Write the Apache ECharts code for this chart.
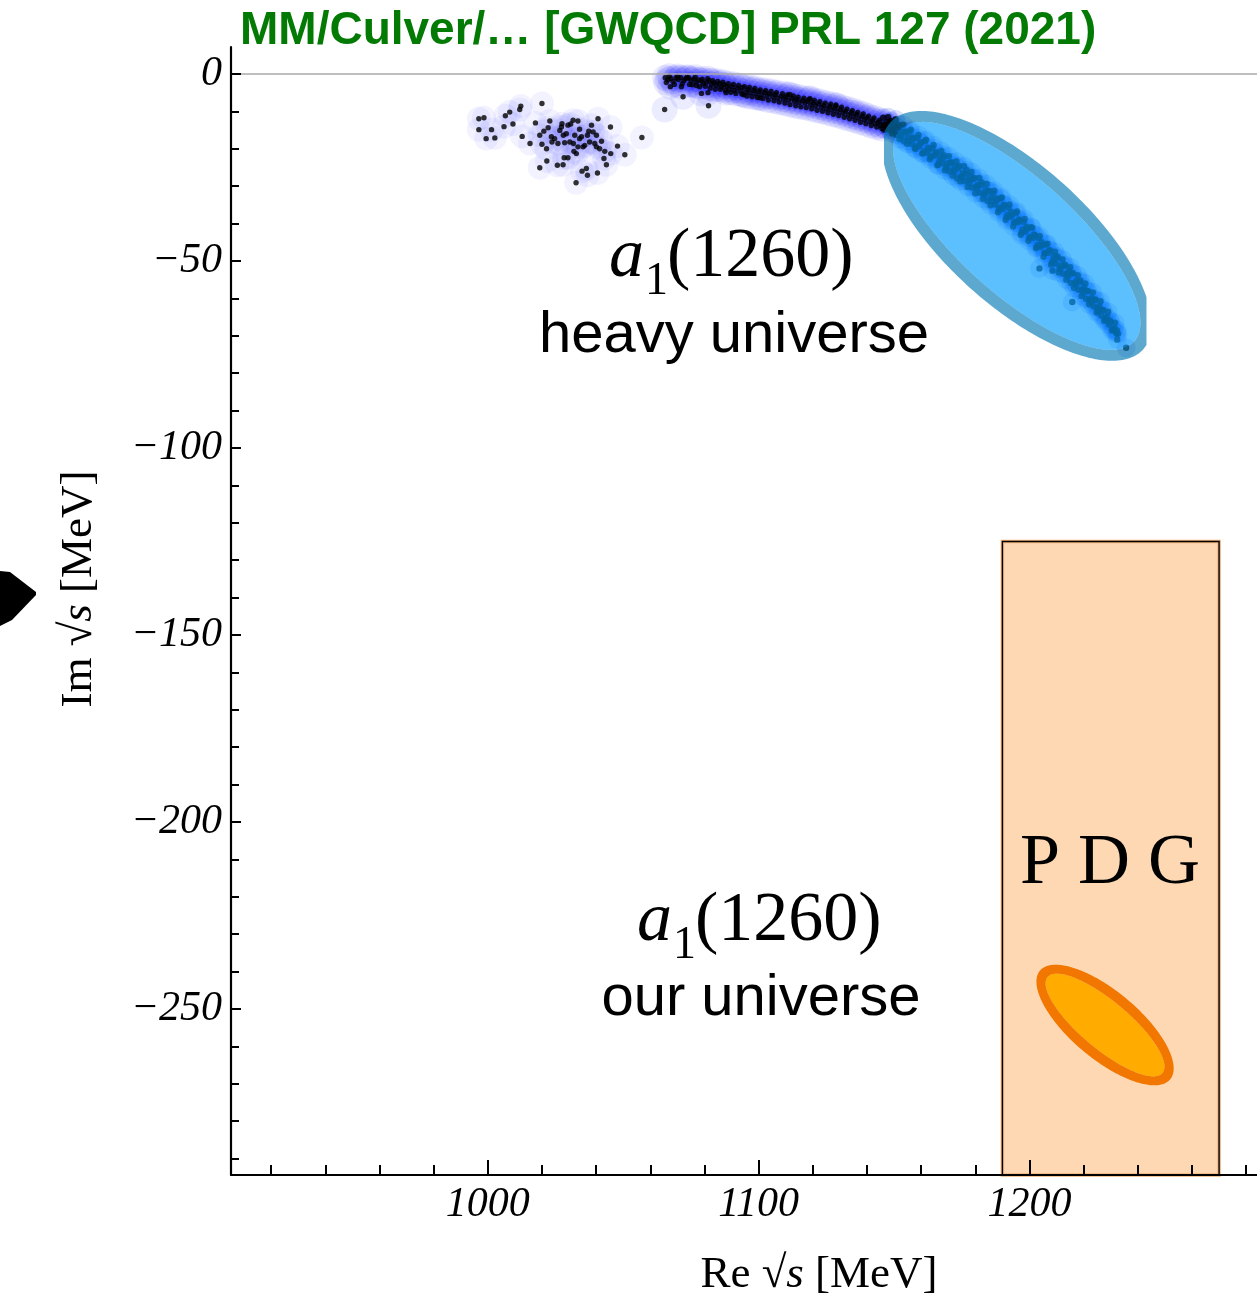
<!DOCTYPE html>
<html>
<head>
<meta charset="utf-8">
<script src="https://cdn.jsdelivr.net/npm/echarts@6/dist/echarts.min.js"></script>
<style>html,body{margin:0;padding:0;background:#fff;}#c{width:1257px;height:1311px;}</style>
</head>
<body>
<div id="c"></div>
<script>
// ---------------- data ----------------
const xRange = [905.2, 1284];
const yRange = [-294.4, 7.2];
const xMajorTicks = [1000, 1100, 1200];
const xMinorTicks = [920, 940, 960, 980, 1020, 1040, 1060, 1080, 1120, 1140, 1160, 1180, 1220, 1240, 1260, 1280];
const yMajorTicks = [0, -50, -100, -150, -200, -250];
const yMinorTicks = [-10, -20, -30, -40, -60, -70, -80, -90, -110, -120, -130, -140, -160, -170, -180, -190, -210, -220, -230, -240, -260, -270, -280, -290];

// pole samples: isolated cluster around Re ~ 1000-1057
const polesCluster = [
  [996.7,-12.0],[998.6,-11.7],[996.7,-14.9],[1001.4,-14.9],[999.4,-17.3],[1002.6,-17.1],[1006.5,-11.2],[1008.1,-10.2],
  [1011.8,-9.5],[1012.2,-8.6],[1006.0,-14.1],[1009.3,-13.4],[1020.0,-7.9],[1012.7,-16.7],[1015.6,-18.6],[1017.6,-13.1],
  [1019.2,-16.4],[1020.7,-15.3],[1022.3,-14.4],[1022.9,-12.6],[1020.0,-18.8],[1021.7,-20.0],[1023.5,-16.8],[1023.7,-18.2],
  [1025.9,-18.6],[1026.6,-15.1],[1027.4,-13.3],[1027.9,-16.4],[1029.0,-16.0],[1028.4,-18.4],[1029.6,-13.7],[1031.5,-12.4],
  [1032.1,-16.4],[1031.6,-18.6],[1033.3,-12.6],[1033.9,-14.8],[1034.6,-16.8],[1035.2,-19.5],[1031.8,-20.7],[1032.7,-21.3],
  [1035.8,-19.1],[1036.8,-16.4],[1037.3,-15.3],[1038.3,-13.7],[1038.9,-15.5],[1039.5,-18.6],[1040.1,-16.4],[1040.7,-12.0],
  [1040.1,-19.5],[1042.0,-18.0],[1041.3,-20.0],[1043.2,-20.7],[1045.4,-21.3],[1042.9,-22.6],[1043.8,-24.3],[1045.3,-14.2],
  [1047.9,-19.3],[1050.6,-21.6],[1056.9,-17.0],[1021.8,-23.3],[1019.2,-25.1],[1025.7,-24.4],[1027.8,-24.3],[1028.2,-22.4],
  [1029.6,-22.4],[1034.8,-26.0],[1036.4,-25.3],[1036.8,-27.1],[1040.5,-26.5],[1032.6,-29.1],[1027.2,-14.2],[1030.6,-13.4],
  [1033.9,-17.3],[1024.7,-17.3],[1030.3,-18.2],[1033.3,-19.5],[1037.6,-18.2]
];

// pole samples: track from near the real axis towards the resonance region
const polesTrack = [
  [1065.5,-1.0],[1066.5,-1.6],[1067.6,-1.2],[1068.4,-2.0],[1069.5,-1.1],[1070.3,-1.5],[1071.2,-1.0],[1072.4,-1.8],
  [1073.1,-1.3],[1074.2,-1.1],[1075.0,-1.7],[1076.1,-1.4],[1077.0,-2.2],[1077.8,-1.6],[1078.9,-1.9],[1079.6,-2.6],
  [1080.8,-2.2],[1081.7,-1.8],[1082.6,-2.9],[1083.5,-2.4],[1084.4,-3.1],[1085.5,-2.6],[1086.3,-3.5],[1087.2,-2.9],
  [1088.3,-3.3],[1089.1,-4.0],[1090.2,-3.4],[1091.0,-4.4],[1092.1,-3.8],[1093.3,-4.5],[1094.0,-3.6],[1095.2,-4.8],
  [1096.1,-4.2],[1097.0,-5.0],[1098.2,-4.4],[1099.0,-5.3],[1100.1,-4.7],[1101.0,-5.6],[1102.2,-5.0],[1103.1,-5.9],
  [1104.0,-5.3],[1105.2,-6.1],[1106.1,-5.5],[1107.0,-6.4],[1108.3,-6.0],[1109.2,-6.7],[1110.1,-6.2],[1111.0,-7.0],
  [1112.3,-6.5],[1113.2,-7.3],[1114.1,-6.8],[1115.0,-7.6],[1116.2,-7.1],[1117.1,-7.8],[1118.0,-7.3],[1119.2,-8.2],
  [1120.1,-7.7],[1121.0,-8.5],[1122.1,-8.0],[1123.2,-8.9],[1124.0,-8.4],[1125.1,-9.3],[1126.2,-8.7],[1127.0,-9.6],
  [1128.1,-9.1],[1129.0,-10.0],[1130.2,-9.5],[1131.1,-10.4],[1132.0,-10.0],[1133.1,-10.9],[1134.2,-10.4],[1135.0,-11.3],
  [1136.1,-10.8],[1137.0,-11.8],[1138.2,-11.3],[1139.1,-12.2],[1140.0,-11.8],[1141.2,-12.7],[1142.1,-12.3],[1143.0,-13.3],
  [1144.1,-12.9],[1145.0,-13.8],[1146.0,-13.4],
  [1067.4,-3.4],[1071.5,-3.4],[1074.5,-2.8],[1077.0,-3.1],[1078.9,-5.2],[1081.3,-5.0],[1084.0,-4.1],[1072.1,-6.1],
  [1081.5,-8.5],[1065.3,-9.5],[1088.0,-5.0],[1094.5,-5.6],[1100.5,-6.4],[1111.5,-5.5],[1119.0,-6.6],[1128.5,-8.3],
  [1065.9,-2.3],[1067.0,-0.6],[1068.9,-2.8],[1070.1,-0.7],[1071.8,-2.6],[1073.6,-0.9],[1075.5,-2.9],[1076.6,-0.9],
  [1078.2,-3.4],[1079.2,-1.4],[1080.3,-3.3],[1081.2,-1.3],[1082.1,-3.8],[1083.0,-1.8],[1084.9,-2.0],[1085.9,-4.1],
  [1086.8,-2.2],[1087.7,-4.4],[1088.8,-2.6],[1089.7,-4.9],[1090.7,-2.8],[1091.6,-5.2],[1092.6,-3.1],[1093.8,-5.4],
  [1094.8,-3.4],[1095.7,-5.9],[1096.6,-3.6],[1097.6,-6.1],[1098.6,-3.9],[1099.5,-6.3],[1100.6,-4.3],[1101.6,-6.6],
  [1102.6,-4.5],[1103.6,-7.0],[1104.6,-4.7],[1105.7,-7.2],[1106.6,-5.0],[1107.6,-7.5],[1108.8,-5.3],[1109.7,-7.8],
  [1110.6,-5.6],[1111.6,-8.2],[1112.8,-5.9],[1113.7,-8.5],[1114.6,-6.2],[1115.6,-8.8],[1116.7,-6.5],[1117.6,-9.0],
  [1118.6,-6.8],[1119.6,-9.3],[1120.6,-7.1],[1121.6,-9.7],[1122.6,-7.4],[1123.6,-10.0],[1124.6,-7.8],[1125.6,-10.4],
  [1126.6,-8.1],[1127.6,-10.8],[1128.6,-8.6],[1129.6,-11.1],[1130.6,-8.9],[1131.6,-11.6],[1132.6,-9.4],[1133.6,-12.0],
  [1134.6,-9.8],[1135.6,-12.4],[1136.6,-10.3],[1137.6,-12.9],[1138.6,-10.7],[1139.6,-13.3],[1140.6,-11.3],[1141.6,-13.8],
  [1142.6,-11.8],[1143.6,-14.2],[1144.6,-12.4],[1145.5,-14.6]
];

// pole samples: dense band inside the heavy-universe ellipse
const polesBand = [
  [1146.0,-11.7],[1146.7,-13.7],[1147.4,-13.0],[1148.1,-14.9],[1148.8,-12.6],[1149.5,-14.5],[1150.2,-13.8],[1150.9,-16.3],
  [1151.6,-13.6],[1152.3,-16.1],[1153.0,-15.4],[1153.7,-18.0],[1154.4,-15.4],[1155.1,-17.0],[1155.8,-15.4],[1156.5,-18.7],
  [1157.2,-17.3],[1157.9,-20.1],[1158.6,-17.1],[1159.3,-19.4],[1160.0,-18.4],[1160.7,-21.2],[1161.4,-18.0],[1162.1,-21.1],
  [1162.8,-20.3],[1163.5,-22.2],[1164.2,-19.8],[1164.9,-21.8],[1165.6,-21.0],[1166.3,-24.3],[1167.0,-22.1],[1167.7,-23.8],
  [1168.4,-21.7],[1169.1,-25.0],[1169.8,-23.9],[1170.5,-26.1],[1171.2,-23.6],[1171.9,-25.6],[1172.6,-24.6],[1173.3,-27.9],
  [1174.0,-24.6],[1174.7,-27.4],[1175.4,-26.5],[1176.1,-28.7],[1176.8,-25.7],[1177.5,-28.3],[1178.2,-27.5],[1178.9,-30.4],
  [1179.6,-27.8],[1180.3,-30.1],[1181.0,-29.6],[1181.7,-31.8],[1182.4,-29.0],[1183.1,-32.1],[1183.8,-31.0],[1184.5,-33.9],
  [1185.2,-31.3],[1185.9,-33.0],[1186.6,-31.8],[1187.3,-34.9],[1188.0,-33.8],[1188.7,-36.3],[1189.4,-33.3],[1190.1,-36.1],
  [1190.8,-35.1],[1191.5,-38.3],[1192.2,-35.7],[1192.9,-38.2],[1193.6,-37.7],[1194.3,-39.8],[1195.0,-37.2],[1195.7,-39.7],
  [1196.4,-39.2],[1197.1,-42.4],[1197.8,-39.5],[1198.5,-42.2],[1199.2,-41.4],[1199.9,-43.9],[1200.6,-41.0],[1201.3,-43.9],
  [1202.0,-43.1],[1202.7,-46.2],[1203.4,-43.9],[1204.1,-46.2],[1204.8,-45.8],[1205.5,-47.9],[1206.2,-45.6],[1206.9,-47.8],
  [1207.6,-47.2],[1208.3,-50.5],[1209.0,-48.7],[1209.7,-50.7],[1210.4,-48.8],[1211.1,-52.0],[1211.8,-51.2],[1212.5,-53.5],
  [1213.2,-51.1],[1213.9,-53.4],[1214.6,-52.7],[1215.3,-55.9],[1216.0,-53.2],[1216.7,-55.9],[1217.4,-55.3],[1218.1,-57.7],
  [1218.8,-55.2],[1219.5,-57.7],[1220.2,-57.1],[1220.9,-60.1],[1221.6,-58.1],[1222.3,-60.4],[1223.0,-59.9],[1223.7,-62.2],
  [1224.4,-60.3],[1225.1,-62.6],[1225.8,-62.1],[1226.5,-64.6],[1227.2,-63.2],[1227.9,-65.3],[1228.6,-64.9],[1229.3,-67.0],
  [1230.0,-66.4],[1230.7,-68.1],[1231.4,-68.0],[1232.1,-69.4],[1232.7,-69.5],
  [1203.7,-52.0],[1215.8,-61.0],[1235.7,-73.2],[1208.5,-52.6],
  [1146.4,-14.9],[1147.8,-11.6],[1149.2,-15.9],[1150.6,-12.2],[1152.0,-17.4],[1153.4,-13.6],[1154.8,-18.7],[1156.2,-14.9],
  [1157.6,-19.8],[1159.0,-16.3],[1160.4,-21.3],[1161.8,-17.6],[1163.2,-22.8],[1164.6,-19.0],[1166.0,-24.4],[1167.4,-20.6],
  [1168.8,-25.8],[1170.2,-22.0],[1171.6,-27.2],[1173.0,-23.4],[1174.4,-28.7],[1175.8,-24.6],[1177.2,-30.2],[1178.6,-26.2],
  [1180.0,-31.9],[1181.4,-27.8],[1182.8,-33.4],[1184.2,-29.4],[1185.6,-35.1],[1187.0,-31.2],[1188.4,-37.0],[1189.8,-33.0],
  [1191.2,-39.0],[1192.6,-34.9],[1194.0,-40.8],[1195.4,-36.8],[1196.8,-43.0],[1198.2,-38.8],[1199.6,-44.6],[1201.0,-41.1],
  [1202.4,-46.6],[1203.8,-43.3],[1205.2,-48.9],[1206.6,-45.4],[1208.0,-51.0],[1209.4,-47.5],[1210.8,-53.1],[1212.2,-49.6],
  [1213.6,-55.0],[1215.0,-51.7],[1216.4,-57.2],[1217.8,-53.8],[1219.2,-59.4],[1220.6,-56.0],[1222.0,-61.6],[1223.4,-58.4],
  [1224.8,-63.8],[1226.2,-60.8],[1227.6,-66.0],[1229.0,-63.6],[1230.4,-68.6],[1231.6,-66.5],[1232.4,-71.0],
  [1147.1,-13.9],[1148.5,-13.0],[1149.9,-15.3],[1151.3,-14.4],[1152.7,-16.6],[1154.1,-15.6],[1155.5,-17.9],[1156.9,-17.0],
  [1158.3,-19.3],[1159.7,-18.3],[1161.1,-20.7],[1162.5,-19.7],[1163.9,-22.0],[1165.3,-21.1],[1166.7,-23.4],[1168.1,-22.5],
  [1169.5,-24.8],[1170.9,-23.8],[1172.3,-26.2],[1173.7,-25.2],[1175.1,-27.6],[1176.5,-26.7],[1177.9,-29.0],[1179.3,-28.1],
  [1180.7,-30.6],[1182.1,-29.7],[1183.5,-32.3],[1184.9,-31.4],[1186.3,-34.0],[1187.7,-33.2],[1189.1,-35.8],[1190.5,-35.0],
  [1191.9,-37.7],[1193.3,-36.9],[1194.7,-39.6],[1196.1,-38.9],[1197.5,-41.6],[1198.9,-40.9],[1200.3,-43.6],[1201.7,-42.9],
  [1203.1,-45.7],[1204.5,-45.0],[1205.9,-47.8],[1207.3,-47.1],[1208.7,-49.9],[1210.1,-49.2],[1211.5,-52.0],[1212.9,-51.3],
  [1214.3,-54.1],[1215.7,-53.4],[1217.1,-56.3],[1218.5,-55.7],[1219.9,-58.6],[1221.3,-58.0],[1222.7,-61.0],[1224.1,-60.5],
  [1225.5,-63.4],[1226.9,-63.1],[1228.3,-65.9],[1229.7,-65.9],[1231.1,-68.6],[1232.3,-68.6]
];

// heavy-universe confidence ellipse (centre and two conjugate half-axes, MeV), clipped in Re
const heavyEllipse = { center: [1195.3, -43.3], u: [45.0, -29.3], v: [-15.8, -12.7], clipRe: [1146.3, 1243.2] };
// PDG ellipse and PDG box (our universe)
const pdgEllipse = { center: [1227.9, -254.3], u: [22.6, -13.7], v: [-6.9, -5.9], clipRe: null };
const pdgBox = { re: [1190, 1270], im: [-300, -125] };

// ---------------- helpers ----------------
const SERIF = "'Liberation Serif', 'Times New Roman', serif";
const SANS = "'Liberation Sans', Arial, Helvetica, sans-serif";

function clipHalf(pts, keep, X) {
  const out = [];
  for (let k = 0; k < pts.length; k++) {
    const P = pts[k], Q = pts[(k + 1) % pts.length];
    const pin = keep(P), qin = keep(Q);
    if (pin) out.push(P);
    if (pin !== qin) {
      const t = (X - P[0]) / (Q[0] - P[0]);
      out.push([X, P[1] + t * (Q[1] - P[1])]);
    }
  }
  return out;
}
function clipSlab(pts, xl, xr) {
  let r = pts;
  if (isFinite(xl)) r = clipHalf(r, p => p[0] >= xl, xl);
  if (isFinite(xr)) r = clipHalf(r, p => p[0] <= xr, xr);
  return r;
}
function toPath(pts) {
  return pts.map((p, i) => (i ? 'L' : 'M') + p[0].toFixed(2) + ' ' + p[1].toFixed(2)).join(' ') + ' Z ';
}

function ellipseSeries(E, fillColor, ringColor, ringW, z) {
  return {
    type: 'custom', z: z, silent: true, animation: false,
    data: [E.center],
    renderItem: function (params, api) {
      const c = api.coord(E.center);
      const pu = api.coord([E.center[0] + E.u[0], E.center[1] + E.u[1]]);
      const pv = api.coord([E.center[0] + E.v[0], E.center[1] + E.v[1]]);
      const U = [pu[0] - c[0], pu[1] - c[1]], V = [pv[0] - c[0], pv[1] - c[1]];
      const a = U[0] * U[0] + V[0] * V[0], b = U[0] * U[1] + V[0] * V[1], d = U[1] * U[1] + V[1] * V[1];
      const tr = (a + d) / 2, df = Math.sqrt(((a - d) / 2) * ((a - d) / 2) + b * b);
      const A = Math.sqrt(tr + df), B = Math.sqrt(Math.max(tr - df, 0));
      const phi = 0.5 * Math.atan2(2 * b, a - d);
      const cp = Math.cos(phi), sp = Math.sin(phi);
      function ell(ra, rb) {
        const pts = [];
        const N = 240;
        for (let k = 0; k < N; k++) {
          const t = 2 * Math.PI * k / N;
          const ex = ra * Math.cos(t), ey = rb * Math.sin(t);
          pts.push([c[0] + ex * cp - ey * sp, c[1] + ex * sp + ey * cp]);
        }
        return pts;
      }
      let xl = -Infinity, xr = Infinity;
      if (E.clipRe) { xl = api.coord([E.clipRe[0], 0])[0]; xr = api.coord([E.clipRe[1], 0])[0]; }
      const outer = clipSlab(ell(A + ringW / 2, B + ringW / 2), xl, xr);
      const inner = clipSlab(ell(A - ringW / 2, B - ringW / 2), xl, xr);
      return {
        type: 'group',
        children: [
          { type: 'polygon', shape: { points: inner }, style: { fill: fillColor } },
          { type: 'path', shape: { pathData: toPath(outer) + toPath(inner.slice().reverse()) }, style: { fill: ringColor } }
        ]
      };
    }
  };
}

function haloSeries(data, size, color) {
  return { type: 'scatter', data: data, symbol: 'circle', symbolSize: size, z: 1, silent: true, animation: false,
    itemStyle: { color: color }, emphasis: { disabled: true } };
}
function dotSeries(data, color, size) {
  return { type: 'scatter', data: data, symbol: 'circle', symbolSize: size, z: 2, silent: true, animation: false,
    itemStyle: { color: color }, emphasis: { disabled: true } };
}

const chart = echarts.init(document.getElementById('c'), null, { renderer: 'canvas' });

const axisCommon = { type: 'value', splitLine: { show: false }, z: 10 };
const tickStyle = { color: '#000', width: 2 };

const option = {
  backgroundColor: '#fff',
  animation: false,
  grid: { left: 231, top: 47, right: 0, bottom: 136, containLabel: false },
  xAxis: [
    Object.assign({}, axisCommon, {
      min: xRange[0], max: xRange[1], position: 'bottom',
      axisLine: { show: true, onZero: false, lineStyle: { color: '#000', width: 2.2 } },
      axisTick: { show: true, inside: true, length: 15, lineStyle: tickStyle, customValues: xMajorTicks },
      axisLabel: { show: true, customValues: xMajorTicks, margin: 9, color: '#000',
        fontFamily: SERIF, fontStyle: 'italic', fontSize: 42, formatter: v => String(v) }
    }),
    Object.assign({}, axisCommon, {
      min: xRange[0], max: xRange[1], position: 'bottom',
      axisLine: { show: false, onZero: false },
      axisTick: { show: true, inside: true, length: 10, lineStyle: tickStyle, customValues: xMinorTicks },
      axisLabel: { show: false }
    })
  ],
  yAxis: [
    Object.assign({}, axisCommon, {
      min: yRange[0], max: yRange[1], position: 'left',
      axisLine: { show: true, onZero: false, lineStyle: { color: '#000', width: 2.2 } },
      axisTick: { show: true, inside: true, length: 10, lineStyle: tickStyle, customValues: yMajorTicks },
      axisLabel: { show: true, customValues: yMajorTicks, margin: 9, color: '#000',
        fontFamily: SERIF, fontStyle: 'italic', fontSize: 42,
        formatter: v => (v === 0 ? '0' : '\u2212' + Math.abs(v)) }
    }),
    Object.assign({}, axisCommon, {
      min: yRange[0], max: yRange[1], position: 'left',
      axisLine: { show: false, onZero: false },
      axisTick: { show: true, inside: true, length: 8, lineStyle: tickStyle, customValues: yMinorTicks },
      axisLabel: { show: false }
    })
  ],
  series: [
    // PDG box
    {
      type: 'custom', z: 1, silent: true, animation: false, data: [[pdgBox.re[0], pdgBox.im[1]]],
      renderItem: function (params, api) {
        const p1 = api.coord([pdgBox.re[0], pdgBox.im[1]]);
        const p2 = api.coord([pdgBox.re[1], pdgBox.im[0]]);
        const cs = params.coordSys;
        const y2 = Math.min(p2[1], cs.y + cs.height);
        const shape = { x: p1[0], y: p1[1], width: p2[0] - p1[0], height: y2 - p1[1] };
        return { type: 'group', children: [
          { type: 'rect', shape: shape, style: { fill: '#fdd8b3', stroke: '#f2b27a', lineWidth: 3.5 } },
          { type: 'rect', shape: shape, style: { fill: 'none', stroke: '#000', lineWidth: 1.4 } }
        ] };
      }
    },
    ellipseSeries(pdgEllipse, '#ffab00', '#f27700', 10, 3),
    // pole samples: glow then dots
    haloSeries(polesCluster, 24, 'rgba(30,30,255,0.07)'),
    haloSeries(polesTrack, 26, 'rgba(30,30,255,0.10)'),
    haloSeries(polesBand, 19, 'rgba(0,30,255,0.18)'),
    Object.assign(dotSeries(polesCluster, '#000', 5.4), {
      markLine: { silent: true, symbol: 'none', animation: false, label: { show: false },
        lineStyle: { color: '#aaaaaa', width: 1.6, type: 'solid' }, data: [{ yAxis: 0 }] }
    }),
    dotSeries(polesTrack, '#000', 5.4),
    dotSeries(polesBand, '#000', 6.4),
    ellipseSeries(heavyEllipse, 'rgba(5,158,255,0.65)', 'rgba(5,122,180,0.65)', 12, 5)
  ],
  graphic: [
    { type: 'text', x: 240, y: 31, z: 20, style: { text: 'MM/Culver/\u2026 [GWQCD] PRL 127 (2021)', fill: '#037a03',
      font: 'bold 46px ' + SANS, align: 'left', verticalAlign: 'middle' } },
    // a1(1260) heavy universe
    { type: 'text', x: 609, y: 258, z: 20, style: { text: 'a', fill: '#000', font: 'italic 70px ' + SERIF, align: 'left', verticalAlign: 'middle' } },
    { type: 'text', x: 645, y: 282, z: 20, style: { text: '1', fill: '#000', font: '46px ' + SERIF, align: 'left', verticalAlign: 'middle' } },
    { type: 'text', x: 667, y: 258, z: 20, style: { text: '(1260)', fill: '#000', font: '70px ' + SERIF, align: 'left', verticalAlign: 'middle' } },
    { type: 'text', x: 734, y: 336, z: 20, style: { text: 'heavy universe', fill: '#000', font: '58px ' + SANS, align: 'center', verticalAlign: 'middle' } },
    // a1(1260) our universe
    { type: 'text', x: 637, y: 922, z: 20, style: { text: 'a', fill: '#000', font: 'italic 70px ' + SERIF, align: 'left', verticalAlign: 'middle' } },
    { type: 'text', x: 673, y: 946, z: 20, style: { text: '1', fill: '#000', font: '46px ' + SERIF, align: 'left', verticalAlign: 'middle' } },
    { type: 'text', x: 695, y: 922, z: 20, style: { text: '(1260)', fill: '#000', font: '70px ' + SERIF, align: 'left', verticalAlign: 'middle' } },
    { type: 'text', x: 761, y: 999, z: 20, style: { text: 'our universe', fill: '#000', font: '58px ' + SANS, align: 'center', verticalAlign: 'middle' } },
    // PDG
    { type: 'text', x: 1110, y: 864, z: 20, style: { text: 'P D G', fill: '#000', font: '72px ' + SERIF, align: 'center', verticalAlign: 'middle' } },
    // axis titles
    { type: 'text', x: 819, y: 1275, z: 20, style: { text: '{n|Re }{n|\u221A}{s|s}{n| [MeV]}', align: 'center', verticalAlign: 'middle',
      rich: { n: { fontFamily: SERIF, fontSize: 45, fill: '#000' }, s: { fontFamily: SERIF, fontStyle: 'italic', fontSize: 45, fill: '#000' } } } },
    { type: 'text', x: 79, y: 589, rotation: Math.PI / 2, z: 20, style: { text: '{n|Im }{n|\u221A}{s|s}{n| [MeV]}', align: 'center', verticalAlign: 'middle',
      rich: { n: { fontFamily: SERIF, fontSize: 45, fill: '#000' }, s: { fontFamily: SERIF, fontStyle: 'italic', fontSize: 45, fill: '#000' } } } },
    // clipped black marker at the left edge
    { type: 'polygon', z: 20, shape: { points: [[0, 571], [10, 572], [36, 592], [36, 595], [12, 620], [0, 626]] }, style: { fill: '#000' } }
  ]
};
chart.setOption(option);
</script>
</body>
</html>
